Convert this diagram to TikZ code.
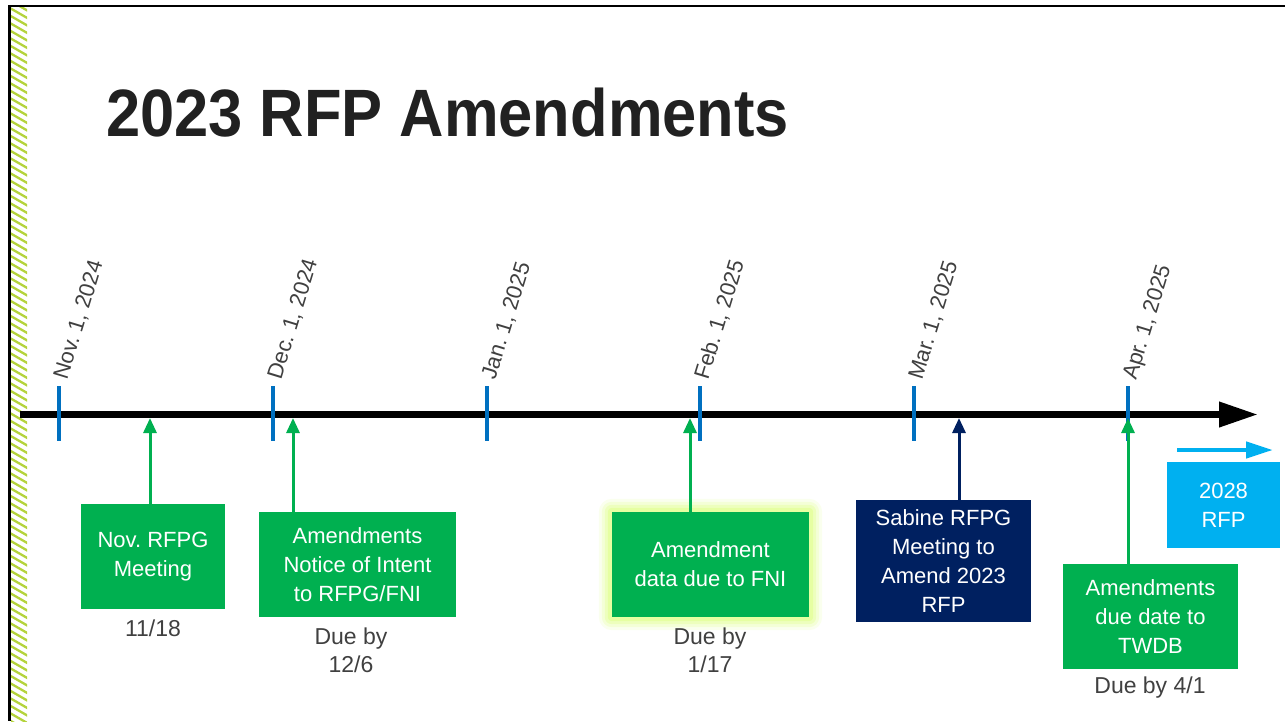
\documentclass[tikz,border=0pt]{standalone}
\usepackage{fontspec}
\setmainfont{Liberation Sans}
\usetikzlibrary{arrows.meta,backgrounds}
\frenchspacing
\definecolor{rgreen}{HTML}{00B050}
\definecolor{rnavy}{HTML}{002060}
\definecolor{rlblue}{HTML}{00B0F0}
\definecolor{rtick}{HTML}{0070C0}
\definecolor{rgray}{HTML}{404040}
\definecolor{rtitle}{HTML}{212121}
\definecolor{rhatch}{HTML}{B4D33C}
\definecolor{rglow}{HTML}{D8FF70}
\tikzset{
  box/.style={fill=#1, text=white, align=center, inner sep=0pt, font=\fontsize{22}{29}\selectfont},
  glabel/.style={text=rgray, align=center, inner sep=0pt, font=\fontsize{23}{28}\selectfont},
  datelabel/.style={text=rgray, rotate=73, anchor=base west, inner sep=0pt, font=\fontsize{22}{26}\selectfont},
  tickline/.style={draw=rtick, line width=3.2pt},
  conn/.style={draw=#1, line width=3pt, -{Stealth[length=15pt,width=13pt,inset=0pt]}},
}
\begin{document}
\frenchspacing
\begin{tikzpicture}[x=1pt,y=-1pt]
\useasboundingbox (0,0) rectangle (1285,721);
% frame
\begin{scope}
\clip (11,7) rectangle (27,721);
\foreach \k in {-4,...,100} {
  \draw[rhatch, line width=2.3pt] (9,{\k*7.5}) -- (29,{\k*7.5+11.5});
}
\end{scope}
\draw[black, line width=2.5pt] (8,6) -- (1285,6);
\draw[black, line width=3pt] (9,5) -- (9,721);
% title
\node[anchor=base west, inner sep=0pt, text=rtitle, font=\fontsize{67}{70}\selectfont\bfseries] (title) at (106,136) {\scalebox{0.917}[1]{2023 RFP Amendments}};
% timeline
\coordinate (tl0) at (20,414.5);
\coordinate (tl1) at (1258,414.5);
\draw[black, line width=7pt, -{Triangle[length=39pt,width=24pt]}] (tl0) -- (tl1);
% ticks and dates
\foreach \x/\d/\n in {59/{Nov. 1, 2024}/k1, 273/{Dec. 1, 2024}/k2, 487/{Jan. 1, 2025}/k3, 700/{Feb. 1, 2025}/k4, 914/{Mar. 1, 2025}/k5, 1128/{Apr. 1, 2025}/k6} {
  \coordinate (\n t) at (\x,386);
  \coordinate (\n b) at (\x,441);
  \draw[tickline] (\n t) -- (\n b);
  \node[datelabel] (\n lab) at (\x+8,381) {\d};
}
% boxes
\node[box=rgreen, minimum width=144pt, minimum height=105pt] (b1) at (153,556.5) {Nov. RFPG\\Meeting};
\node[box=rgreen, minimum width=197pt, minimum height=105pt] (b2) at (357.5,564.5) {Amendments\\Notice of Intent\\to RFPG/FNI};
\node[box=rgreen, minimum width=197pt, minimum height=105pt] (b3) at (710.5,564.5) {Amendment\\data due to FNI};
\node[box=rnavy, minimum width=175pt, minimum height=122pt] (b4) at (943.5,561) {Sabine RFPG\\Meeting to\\Amend 2023\\RFP};
\node[box=rgreen, minimum width=175pt, minimum height=105pt] (b5) at (1150.5,616.5) {Amendments\\due date to\\TWDB};
\node[box=rlblue, minimum width=113pt, minimum height=86pt] (b6) at (1223.5,505) {2028\\RFP};
% glow around b3
\begin{pgfonlayer}{background}
\foreach \e/\o in {13/0.12, 10/0.18, 7/0.25, 4/0.35} {
  \fill[rglow, fill opacity=\o, rounded corners=\e pt]
    ([xshift=-\e pt, yshift=-\e pt]b3.south west) rectangle ([xshift=\e pt, yshift=\e pt]b3.north east);
}
\end{pgfonlayer}
% labels under boxes
\node[glabel] (l1) at (153,628) {11/18};
\node[glabel] (l2) at (351,650) {Due by\\12/6};
\node[glabel] (l3) at (710,650) {Due by\\1/17};
\node[glabel] (l5) at (1150,688) {Due by 4/1};
% connectors
\coordinate (a1) at (150,418);
\coordinate (a2) at (293,418);
\coordinate (a3) at (690,418);
\coordinate (a4) at (959,418);
\coordinate (a5) at (1128,418);
\draw[conn=rgreen] (b1.north -| a1) -- (a1);
\draw[conn=rgreen] (b2.north -| a2) -- (a2);
\draw[conn=rgreen] (b3.north -| a3) -- (a3);
\draw[conn=rnavy] (b4.north -| a4) -- (a4);
\draw[conn=rgreen] (b5.north -| a5) -- (a5);
% 2028 arrow
\coordinate (c0) at (1177,450);
\coordinate (c1) at (1273,450);
\draw[rlblue, line width=4.5pt, -{Triangle[length=27pt,width=16pt]}] (c0) -- (c1);
\end{tikzpicture}
\end{document}
